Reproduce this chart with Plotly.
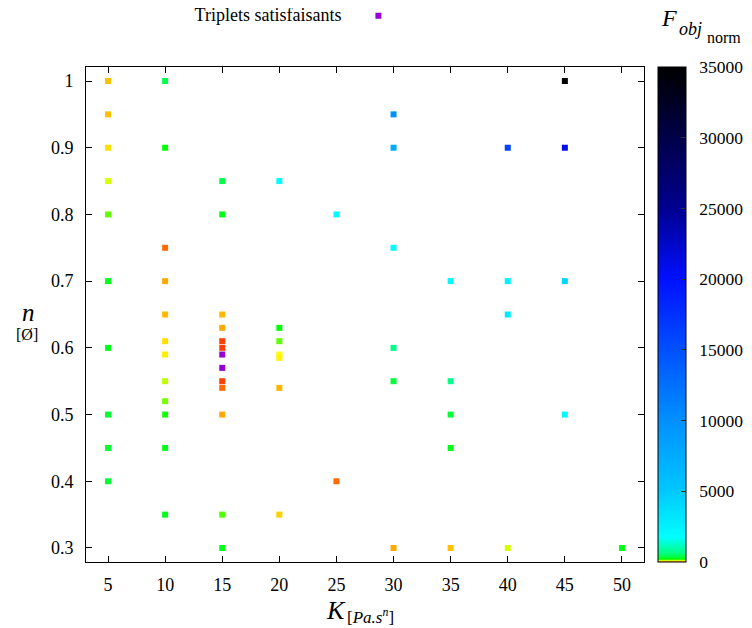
import plotly.graph_objects as go

# ---- data ----
K = [5, 5, 5, 5, 5, 5, 5, 5, 5, 5,
     10, 10, 10, 10, 10, 10, 10, 10, 10, 10, 10, 10,
     15, 15, 15, 15, 15, 15, 15, 15, 15, 15, 15,
     20, 20, 20, 20, 20, 20, 20,
     25, 25,
     30, 30, 30, 30, 30, 30,
     35, 35, 35, 35, 35,
     40, 40, 40, 40,
     45, 45, 45, 45,
     50]
n = [1.0, 0.95, 0.9, 0.85, 0.8, 0.7, 0.6, 0.5, 0.45, 0.4,
     1.0, 0.9, 0.75, 0.7, 0.65, 0.61, 0.59, 0.55, 0.52, 0.5, 0.45, 0.35,
     0.85, 0.8, 0.65, 0.63, 0.61, 0.60, 0.55, 0.54, 0.5, 0.35, 0.3,
     0.85, 0.63, 0.61, 0.59, 0.585, 0.54, 0.35,
     0.8, 0.4,
     0.95, 0.9, 0.75, 0.6, 0.55, 0.3,
     0.7, 0.55, 0.5, 0.45, 0.3,
     0.9, 0.7, 0.65, 0.3,
     1.0, 0.9, 0.7, 0.5,
     0.3]
F = [45, 45, 55, 100, 150, 250, 250, 300, 300, 300,
     400, 200, 18, 35, 42, 55, 62, 110, 140, 190, 250, 250,
     400, 250, 42, 35, 10, 10, 10, 18, 35, 160, 250,
     1800, 220, 150, 70, 65, 40, 50,
     1800, 18,
     10000, 7500, 1900, 650, 320, 35,
     2000, 650, 320, 250, 45,
     16000, 2500, 3000, 100,
     35000, 21000, 4000, 2000,
     250]

K_sat = [15, 15]
n_sat = [0.59, 0.57]

cb_ticks = [0, 5000, 10000, 15000, 20000, 25000, 30000, 35000]
cb_labels = ["0", "5000", "10000", "15000", "20000", "25000", "30000", "35000"]
x_ticks = [5, 10, 15, 20, 25, 30, 35, 40, 45, 50]
y_ticks = [0.3, 0.4, 0.5, 0.6, 0.7, 0.8, 0.9, 1.0]
y_labels = ["0.3", "0.4", "0.5", "0.6", "0.7", "0.8", "0.9", "1"]

# palette (value -> colour), gnuplot-like
CMAX = 35000.0
pal = [(0, "#ff2000"), (10, "#ff4000"), (18, "#ff6a00"), (35, "#ffa800"),
       (45, "#ffc000"), (55, "#ffe000"), (70, "#ffff00"), (100, "#d8ff00"),
       (150, "#60ff00"), (200, "#00ff00"), (300, "#00ff30"), (600, "#00ff80"),
       (1750, "#00ffff"), (5000, "#00c8ff"), (10000, "#0090ff"),
       (15000, "#0050ff"), (20000, "#0010ff"), (25000, "#000090"),
       (35000, "#000000")]
colorscale = [[v / CMAX, c] for v, c in pal]

FONT = "Liberation Serif"
PAD = "\u00a0\u00a0"

fig = go.Figure()
fig.add_trace(go.Scatter(
    x=K, y=n, mode="markers", showlegend=False,
    marker=dict(symbol="square", size=6, color=F, cmin=0, cmax=CMAX,
                colorscale=colorscale, line=dict(width=0),
                colorbar=dict(x=1.025, xanchor="left", xpad=0, y=0.5, yanchor="middle",
                              len=1, lenmode="fraction", thickness=28, thicknessmode="pixels",
                              outlinecolor="black", outlinewidth=1,
                              tickvals=cb_ticks, ticktext=[PAD + t for t in cb_labels],
                              ticks="inside", ticklen=5,
                              tickcolor="#333", ypad=0,
                              tickfont=dict(family=FONT, size=17.5, color="black"))),
))
fig.add_trace(go.Scatter(
    x=K_sat, y=n_sat, mode="markers", name="", showlegend=True,
    marker=dict(symbol="square", size=6, color="#9400d3", line=dict(width=0)),
))

axis_common = dict(showline=True, linecolor="black", linewidth=1, mirror="allticks",
                   ticks="inside", ticklen=6, tickcolor="black", showgrid=False,
                   zeroline=False, tickfont=dict(family=FONT, size=18, color="black"))
fig.update_xaxes(range=[3.07, 51.93], tickvals=x_ticks, ticklabelstandoff=6, **axis_common)
fig.update_yaxes(range=[0.279, 1.021], tickvals=y_ticks, ticktext=y_labels,
                 ticklabelstandoff=8, **axis_common)

fig.update_layout(
    width=744, height=620,
    margin=dict(l=78, r=108, t=59, b=66, autoexpand=False),
    paper_bgcolor="white", plot_bgcolor="white",
    font=dict(family=FONT, color="black"),
    legend=dict(orientation="h", x=0.191, xanchor="left", y=1.103, yanchor="middle",
                title=dict(text="Triplets satisfaisants\u00a0\u00a0", side="left",
                           font=dict(family=FONT, size=18)),
                font=dict(family=FONT, size=18), itemwidth=30,
                bgcolor="rgba(0,0,0,0)"),
    annotations=[
        dict(xref="paper", yref="paper", x=(324 - 86) / 558, y=-65 / 495,
             xanchor="left", yanchor="bottom", showarrow=False,
             text="<i>K</i>", font=dict(family=FONT, size=26)),
        dict(xref="paper", yref="paper", x=(345 - 86) / 558, y=-67 / 495,
             xanchor="left", yanchor="bottom", showarrow=False,
             text="[<i>Pa.s<sup>n</sup></i>]", font=dict(family=FONT, size=17)),
        dict(xref="paper", yref="paper", x=-(86 - 28) / 558, y=(562 - 312) / 495,
             xanchor="center", yanchor="middle", showarrow=False,
             text="<i>n</i>", font=dict(family=FONT, size=25)),
        dict(xref="paper", yref="paper", x=-(86 - 27) / 558, y=(562 - 335) / 495,
             xanchor="center", yanchor="middle", showarrow=False,
             text="[Ø]", font=dict(family=FONT, size=16)),
        dict(xref="paper", yref="paper", x=(659 - 86) / 558, y=(562 - 18) / 495,
             xanchor="left", yanchor="middle", showarrow=False,
             text="<i>F</i>", font=dict(family=FONT, size=24)),
        dict(xref="paper", yref="paper", x=(677 - 86) / 558, y=(562 - 29) / 495,
             xanchor="left", yanchor="middle", showarrow=False,
             text="<i>obj</i>", font=dict(family=FONT, size=18)),
        dict(xref="paper", yref="paper", x=(705 - 86) / 558, y=(562 - 37) / 495,
             xanchor="left", yanchor="middle", showarrow=False,
             text="norm", font=dict(family=FONT, size=16)),
    ],
)

fig.write_html("out.html")
